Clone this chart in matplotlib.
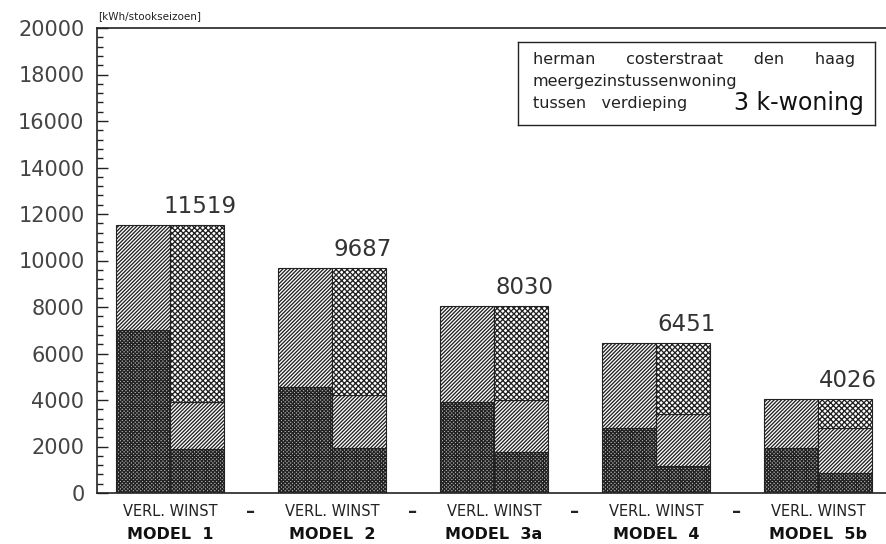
import matplotlib
matplotlib.use("Agg")
import matplotlib.pyplot as plt
from matplotlib.ticker import MultipleLocator
import numpy as np

# Heat balance per model: losses (VERL.) and gains (WINST), kWh per heating season
models = ["MODEL  1", "MODEL  2", "MODEL  3a", "MODEL  4", "MODEL  5b"]
totals = [11519, 9687, 8030, 6451, 4026]

# losses column: lower (transmission) part, remainder up to the total
verl_lower = [7000, 4550, 3900, 2800, 1950]

# gains column: lower part, middle part (cumulative top), remainder up to the total
winst_lower = [1900, 1950, 1750, 1150, 850]
winst_middle_top = [3900, 4200, 4000, 3400, 2800]

y_ticks = [0, 2000, 4000, 6000, 8000, 10000, 12000, 14000, 16000, 18000, 20000]

plt.rcParams["hatch.linewidth"] = 0.95
plt.rcParams["font.family"] = ["DejaVu Sans"]

fig = plt.figure(figsize=(8.87, 5.44), dpi=100)
ax = fig.add_axes([97 / 887, 1 - 493 / 544, 1 - 97 / 887, (493 - 28) / 544])

x = np.arange(len(models))
w = 0.335
ink = "#222222"

dark = dict(facecolor="#b8b8b8", edgecolor=ink, hatch="x" * 9, linewidth=0.8)
diag = dict(facecolor="white", edgecolor=ink, hatch="/" * 9, linewidth=0.8)
cross = dict(facecolor="white", edgecolor=ink, hatch="x" * 6, linewidth=0.8)

verl_x = x - w / 2
winst_x = x + w / 2
totals_a = np.array(totals)
vl = np.array(verl_lower)
wl = np.array(winst_lower)
wm = np.array(winst_middle_top)

# losses column
ax.bar(verl_x, vl, width=w, **dark)
ax.bar(verl_x, totals_a - vl, bottom=vl, width=w, **diag)
# gains column
ax.bar(winst_x, wl, width=w, **dark)
ax.bar(winst_x, wm - wl, bottom=wl, width=w, **diag)
ax.bar(winst_x, totals_a - wm, bottom=wm, width=w, **cross)

for xi, t in zip(winst_x, totals):
    ax.text(xi + 0.02, t + 300, f"{t}", ha="center", va="bottom",
            fontsize=16.5, color="#333333")

ax.set_xlim(-0.45, 4.427)
ax.set_ylim(0, 20000)
ax.set_yticks(y_ticks)
ax.set_yticklabels([str(v) for v in y_ticks], fontsize=15, color="#444444")
ax.yaxis.set_minor_locator(MultipleLocator(400))
ax.tick_params(axis="y", which="major", direction="in", length=8, width=1.0,
               pad=9, colors=ink, labelcolor="#444444")
ax.tick_params(axis="y", which="minor", direction="in", length=4.5, width=1.0,
               colors=ink)
ax.set_xticks([])
for side in ("left", "top", "bottom"):
    ax.spines[side].set_linewidth(1.2)
    ax.spines[side].set_color(ink)
ax.spines["right"].set_visible(False)

# column and model labels below the axis
trans = ax.get_xaxis_transform()
for xi, name in zip(x, models):
    ax.text(xi, -0.04, "VERL. WINST", transform=trans, ha="center", va="center",
            fontsize=10.5, color="#222222")
    ax.text(xi, -0.09, name, transform=trans, ha="center", va="center",
            fontsize=11.5, fontweight="bold", color="#111111")
for xi in x[:-1] + 0.5:
    ax.text(xi, -0.04, "–", transform=trans, ha="center", va="center",
            fontsize=13, fontweight="bold", color="#222222")

fig.text(98 / 887, 1 - 16 / 544, "[kWh/stookseizoen]", ha="left", va="center",
         fontsize=7.5, color="#222222")

# title box
box_ax = fig.add_axes([518 / 887, 1 - 125 / 544, (875 - 518) / 887, (125 - 42) / 544])
box_ax.set_xticks([])
box_ax.set_yticks([])
for s in box_ax.spines.values():
    s.set_linewidth(1.0)
    s.set_color(ink)
box_kw = dict(ha="left", va="center", color="#222222", transform=box_ax.transAxes)
box_ax.text(0.042, 0.795, "herman      costerstraat      den      haag",
            fontsize=11.5, **box_kw)
box_ax.text(0.042, 0.52, "meergezinstussenwoning", fontsize=11.5, **box_kw)
box_ax.text(0.042, 0.265, "tussen   verdieping", fontsize=11.5, **box_kw)
box_ax.text(0.97, 0.265, "3 k-woning", ha="right", va="center", fontsize=17,
            color="#111111", transform=box_ax.transAxes)

fig.savefig("out.png", dpi=100)
